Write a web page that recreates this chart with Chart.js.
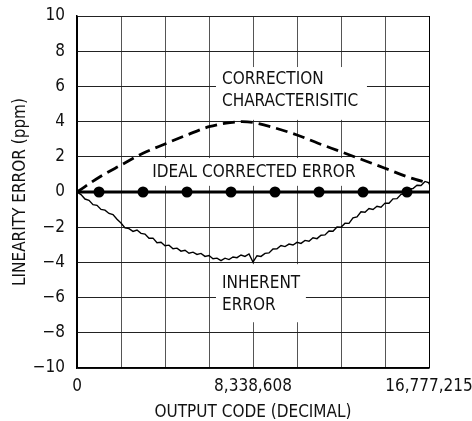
<!DOCTYPE html>
<html>
<head>
<meta charset="utf-8">
<script src="https://cdn.jsdelivr.net/npm/chart.js@4.4.1/dist/chart.umd.min.js"></script>
<style>
  html, body { margin: 0; padding: 0; background: #fff; }
  #wrap { width: 472px; height: 421px; }
</style>
</head>
<body>
<div id="wrap"><canvas id="myChart"></canvas></div>
<script>
const FONT = "'DejaVu Sans Condensed', 'Liberation Sans', Arial, sans-serif";
const FULL_SCALE = 16777215;

// x grid lines (eighths of full scale) and the three labelled codes
const xGridCodes = [0, 2097152, 4194304, 6291456, 8388608, 10485760, 12582912, 14680064, 16777215];
const xTickLabels = ['0', '', '', '', '8,338,608', '', '', '', '16,777,215'];

// inherent error (ppm)
const inherentCodes = [
  0, 190650, 381300, 571951, 762601, 953251, 1143901, 1334551, 1525202, 1715852,
  1906502, 2097152, 2287802, 2478452, 2669103, 2859753, 3050403, 3241053, 3431703, 3622353,
  3813004, 4003654, 4194304, 4384954, 4575604, 4766254, 4956905, 5147555, 5338205, 5528855,
  5719505, 5910155, 6100806, 6291456, 6482106, 6672756, 6863406, 7054056, 7244707, 7435357,
  7626007, 7816657, 8007307, 8197957, 8388608, 8579258, 8769908, 8960558, 9151208, 9341858,
  9532509, 9723159, 9913809, 10104459, 10295109, 10485759, 10676410, 10867060, 11057710, 11248360,
  11439010, 11629660, 11820311, 12010961, 12201611, 12392261, 12582911, 12773561, 12964212, 13154862,
  13345512, 13536162, 13726812, 13917462, 14108113, 14298763, 14489413, 14680063, 14870713, 15061363,
  15252014, 15442664, 15633314, 15823964, 16014614, 16205264, 16395915, 16586565, 16777215
];
const inherentPpm = [
  0, -0.15, -0.40, -0.47, -0.72, -0.76, -0.99, -1.03, -1.22, -1.28,
  -1.55, -1.76, -2.04, -2.08, -2.24, -2.16, -2.35, -2.39, -2.63, -2.62,
  -2.88, -2.86, -3.05, -3.02, -3.22, -3.19, -3.36, -3.31, -3.48, -3.42,
  -3.55, -3.49, -3.66, -3.61, -3.79, -3.76, -3.90, -3.76, -3.84, -3.69,
  -3.73, -3.58, -3.66, -3.52, -3.98, -3.62, -3.66, -3.49, -3.46, -3.24,
  -3.23, -3.04, -3.10, -2.96, -3.01, -2.86, -2.92, -2.75, -2.80, -2.60,
  -2.65, -2.46, -2.44, -2.22, -2.23, -1.99, -2.00, -1.77, -1.78, -1.47,
  -1.41, -1.12, -1.15, -0.94, -0.99, -0.81, -0.86, -0.63, -0.64, -0.39,
  -0.38, -0.13, -0.10, 0.17, 0.20, 0.38, 0.37, 0.60, 0.52
];

// correction characteristic (ppm)
const correctionCodes = [0, 1096238, 2097152, 3145728, 4194304, 5242880, 6291456, 7292370, 7864320,
  8388608, 9437184, 10485760, 11486674, 12582912, 13631488, 14680064, 15728640, 16777215];
const correctionPpm = [0, 0.87, 1.53, 2.2, 2.73, 3.24, 3.71, 3.94, 4.0,
  3.95, 3.64, 3.24, 2.77, 2.29, 1.82, 1.35, 0.87, 0.5];

// ideal corrected error
const idealCodes = [0, 16777215];
const idealPpm = [0, 0];
const dotCodes = [1048576, 3145728, 5242880, 7340032, 9437184, 11534336, 13631488, 15728640];
const dotPpm = [0, 0, 0, 0, 0, 0, 0, 0];

// in-plot labels: text lines, anchor (code, ppm), white box (code x0, x1, ppm y0, y1)
const notes = [
  { lines: ['CORRECTION', 'CHARACTERISITIC'], x: 6910000, y: 6.36, box: [6624000, 13820000, 7.1, 4.1], align: 'left' },
  { lines: ['IDEAL CORRECTED ERROR'], x: 8430000, y: 1.1, box: [3505000, 13420000, 1.93, 0.35], align: 'center' },
  { lines: ['INHERENT', 'ERROR'], x: 6910000, y: -5.22, box: [6624000, 10910000, -4.1, -7.4], align: 'left' }
];

const pts = (xs, ys) => xs.map((x, i) => ({ x: x, y: ys[i] }));

const notesPlugin = {
  id: 'notes',
  beforeDatasetsDraw(chart) {
    const c = chart.ctx, xs = chart.scales.x, ys = chart.scales.y;
    c.save();
    c.font = '17px ' + FONT;
    c.textBaseline = 'middle';
    notes.forEach(n => {
      const x0 = xs.getPixelForValue(n.box[0]), x1 = xs.getPixelForValue(n.box[1]);
      const y0 = ys.getPixelForValue(n.box[2]), y1 = ys.getPixelForValue(n.box[3]);
      c.fillStyle = '#fff';
      c.fillRect(x0, y0, x1 - x0, y1 - y0);
      c.fillStyle = '#111';
      c.textAlign = n.align;
      const px = xs.getPixelForValue(n.x), py = ys.getPixelForValue(n.y);
      n.lines.forEach((t, i) => c.fillText(t, px, py + i * 22));
    });
    c.restore();
  }
};

new Chart(document.getElementById('myChart'), {
  type: 'scatter',
  data: {
    datasets: [
      {
        label: 'inherent',
        data: pts(inherentCodes, inherentPpm),
        showLine: true, borderColor: '#000', borderWidth: 1.4,
        pointRadius: 0, tension: 0
      },
      {
        label: 'ideal',
        data: pts(idealCodes, idealPpm),
        showLine: true, borderColor: '#000', borderWidth: 3,
        pointRadius: 0
      },
      {
        label: 'dots',
        data: pts(dotCodes, dotPpm),
        showLine: false, pointRadius: 5.5, pointBackgroundColor: '#000',
        pointBorderColor: '#000', pointBorderWidth: 0
      },
      {
        label: 'correction',
        data: pts(correctionCodes, correctionPpm),
        showLine: true, borderColor: '#000', borderWidth: 2.8,
        borderDash: [12, 6], pointRadius: 0, cubicInterpolationMode: 'monotone'
      }
    ]
  },
  options: {
    responsive: true,
    maintainAspectRatio: false,
    animation: false,
    layout: { padding: { left: 0, right: 43, top: 16, bottom: 0 } },
    plugins: { legend: { display: false }, tooltip: { enabled: false } },
    scales: {
      x: {
        type: 'linear', min: 0, max: FULL_SCALE,
        afterBuildTicks: s => { s.ticks = xGridCodes.map(v => ({ value: v })); },
        afterFit: s => { s.height = 53; s.paddingLeft = 0; s.paddingRight = 0; },
        grid: { color: ctx => (ctx.index === 0 || ctx.index === 8) ? '#000' : '#555', lineWidth: 1, drawTicks: false },
        border: { color: '#000', width: 1.5 },
        ticks: {
          autoSkip: false, maxRotation: 0, padding: 8, color: '#111',
          font: { family: FONT, size: 17 },
          callback: (v, i) => xTickLabels[i]
        },
        title: { display: true, text: 'OUTPUT CODE (DECIMAL)', color: '#111', font: { family: FONT, size: 17 }, padding: { top: 0, bottom: -2 } }
      },
      y: {
        min: -10, max: 10,
        afterFit: s => { s.width = 77; s.paddingTop = 0; s.paddingBottom = 0; },
        grid: { color: '#222', lineWidth: 1, drawTicks: false },
        border: { color: '#000', width: 1.5 },
        ticks: {
          stepSize: 2, padding: 12, color: '#111',
          font: { family: FONT, size: 17 },
          callback: v => String(v).replace('-', '\u2212')
        },
        title: { display: true, text: 'LINEARITY ERROR (ppm)', color: '#111', font: { family: FONT, size: 17 }, padding: 10 }
      }
    }
  },
  plugins: [notesPlugin]
});
</script>
</body>
</html>
